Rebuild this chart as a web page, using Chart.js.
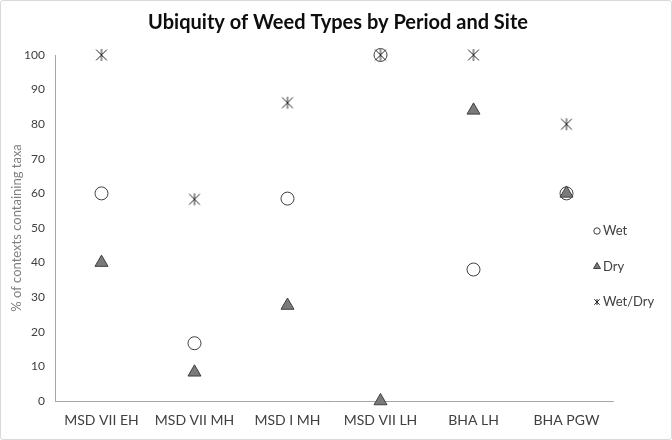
<!DOCTYPE html>
<html>
<head>
<meta charset="utf-8">
<script src="https://cdn.jsdelivr.net/npm/chart.js@4.4.1/dist/chart.umd.min.js"></script>
<style>
    html, body { margin: 0; padding: 0; background: #fff; }
    .frame {
        width: 672px; height: 440px; box-sizing: border-box;
        border: 1px solid #d9d9d9; border-radius: 3px; position: relative;
    }
</style>
</head>
<body>
<div class="frame"><canvas id="chart"></canvas></div>
<script>
const categories = ["MSD VII EH", "MSD VII MH", "MSD I MH", "MSD VII LH", "BHA LH", "BHA PGW"];
const wetValues = [60, 16.7, 58.5, 100, 38, 60];
const dryValues = [40, 8.3, 27.6, 0, 84, 60];
const wetDryValues = [100, 58.3, 86.2, 100, 100, 80];
const seriesNames = ["Wet", "Dry", "Wet/Dry"];

const FONT = "'Lato', 'Open Sans', sans-serif";
const TEXT = "#404040";

// Excel style "star" marker: an X with a vertical stroke through it
function makeStar(size) {
    const c = document.createElement("canvas");
    c.width = size; c.height = size;
    const g = c.getContext("2d");
    g.strokeStyle = "#262626";
    g.lineWidth = 1;
    const m = size / 2, r = size / 2 - 1;
    g.beginPath();
    g.moveTo(m - r * 0.9, m - r * 0.9); g.lineTo(m + r * 0.9, m + r * 0.9);
    g.moveTo(m + r * 0.9, m - r * 0.9); g.lineTo(m - r * 0.9, m + r * 0.9);
    g.moveTo(m, m - r); g.lineTo(m, m + r);
    g.stroke();
    return c;
}
const star = makeStar(14);
const starSmall = makeStar(8);

// legend drawn inside the plot, like the Excel original
const sideLegend = {
    id: "sideLegend",
    afterDraw(chart) {
        const ctx = chart.ctx;
        ctx.save();
        chart.data.datasets.forEach((ds, i) => {
            const x = 596, y = 230 + i * 35.5;
            ctx.fillStyle = ds.pointBackgroundColor;
            ctx.strokeStyle = ds.pointBorderColor;
            ctx.lineWidth = 1;
            const style = ds.pointStyle === star ? starSmall : ds.pointStyle;
            const r = ds.pointStyle === "triangle" ? 4 : 3.2;
            Chart.helpers.drawPoint(ctx, { pointStyle: style, radius: r, borderWidth: 1, rotation: 0 }, x, y);
            ctx.fillStyle = TEXT;
            ctx.font = "13px " + FONT;
            ctx.textBaseline = "middle";
            ctx.textAlign = "left";
            ctx.fillText(ds.label, x + 6, y);
        });
        ctx.restore();
    },
};

new Chart(document.getElementById("chart"), {
    type: "line",
    data: {
        labels: categories,
        datasets: [
            {
                label: seriesNames[0],
                data: wetValues,
                showLine: false,
                pointStyle: "circle",
                pointRadius: 6.5,
                pointHoverRadius: 6.5,
                pointBackgroundColor: "#ffffff",
                pointBorderColor: "#404040",
                pointBorderWidth: 1,
                order: 2,
            },
            {
                label: seriesNames[1],
                data: dryValues,
                showLine: false,
                pointStyle: "triangle",
                pointRadius: 7.5,
                pointHoverRadius: 7.5,
                pointBackgroundColor: "#7a7a7a",
                pointBorderColor: "#404040",
                pointBorderWidth: 1,
                order: 1,
            },
            {
                label: seriesNames[2],
                data: wetDryValues,
                showLine: false,
                pointStyle: star,
                pointRadius: 7,
                pointBackgroundColor: "#262626",
                pointBorderColor: "#262626",
                order: 0,
            },
        ],
    },
    options: {
        responsive: true,
        maintainAspectRatio: false,
        animation: false,
        clip: false,
        layout: { padding: { top: 0, right: 0, bottom: 0, left: 4 } },
        plugins: {
            legend: { display: false },
            tooltip: { enabled: false },
            title: {
                display: true,
                text: "Ubiquity of Weed Types by Period and Site",
                color: "#0d0d0d",
                font: { family: FONT, size: 20, weight: "bold" },
                padding: { top: 10, bottom: 20 },
            },
        },
        scales: {
            x: {
                offset: true,
                afterFit(scale) { scale.height = 38; },
                grid: { display: false, drawTicks: false },
                border: { display: true, color: "#a6a6a6" },
                ticks: { color: TEXT, font: { family: FONT, size: 14 }, padding: 11, maxRotation: 0 },
            },
            y: {
                min: 0,
                max: 100,
                afterFit(scale) { scale.width = 50; },
                grid: { display: false, drawTicks: false },
                border: { display: true, color: "#a6a6a6" },
                ticks: { stepSize: 10, color: TEXT, font: { family: FONT, size: 12 }, padding: 10 },
                title: {
                    display: true,
                    text: "% of contexts containing taxa",
                    color: "#7f7f7f",
                    font: { family: FONT, size: 13 },
                    padding: { top: 4, bottom: 0 },
                },
            },
            // empty right-hand band so the plot stops where the original's does
            yRight: {
                position: "right",
                min: 0,
                max: 100,
                afterFit(scale) { scale.width = 58; },
                grid: { display: false, drawTicks: false },
                border: { display: false },
                ticks: { display: false },
            },
        },
    },
    plugins: [sideLegend],
});
</script>
</body>
</html>
